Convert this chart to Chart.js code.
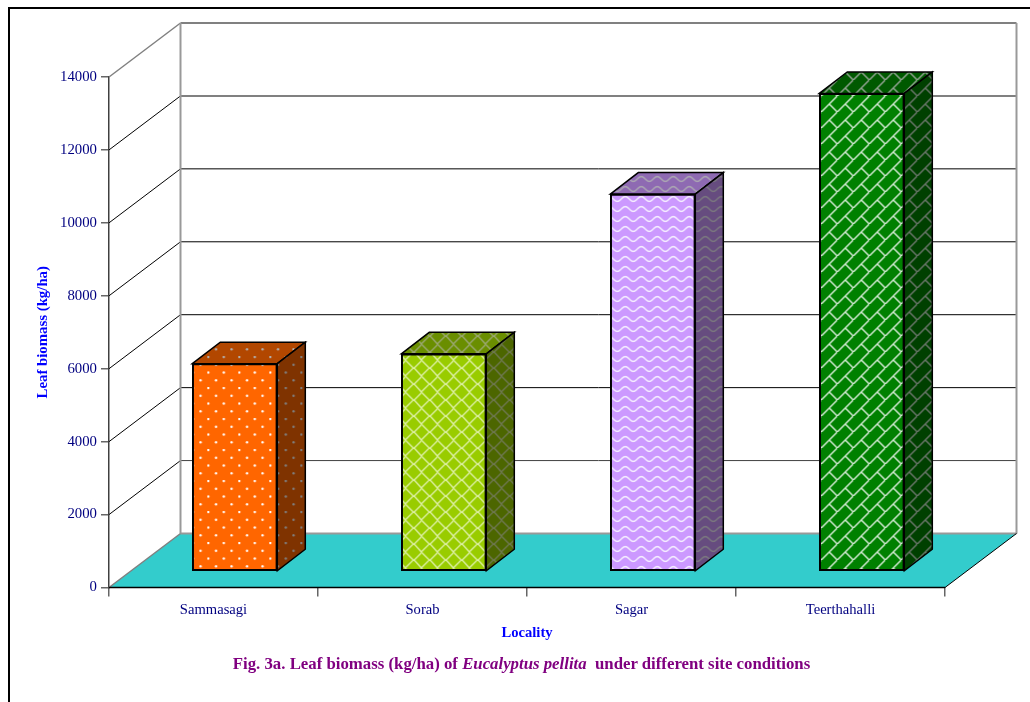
<!DOCTYPE html>
<html>
<head>
<meta charset="utf-8">
<title>Leaf biomass</title>
<script src="https://cdn.jsdelivr.net/npm/chart.js@4"></script>
<style>
  html, body { margin: 0; padding: 0; background: #fff; overflow: hidden; }
  #page { position: relative; width: 1030px; height: 702px; }
  #frame { position: absolute; left: 8px; top: 7px; right: 0; bottom: 0; border-left: 2px solid #000; border-top: 2px solid #000; }
  #caption { position: absolute; left: 0; width: 1043px; top: 654px; text-align: center; white-space: pre;
             font: bold 16.8px "Liberation Serif", serif; color: #800080; }
</style>
</head>
<body>
<div id="page">
  <div id="frame"></div>
  <canvas id="chart" width="1030" height="702"></canvas>
  <div id="caption">Fig. 3a. Leaf biomass (kg/ha) of <i>Eucalyptus pellita</i>  under different site conditions</div>
</div>
<script>
const categories = ["Sammasagi", "Sorab", "Sagar", "Teerthahalli"];
const leafBiomass = [5700, 5970, 10350, 13110];

const serif = "'Liberation Serif', serif";
const wallDx = 71.5, wallDy = 54;   // depth of the floor
const barDx = 28, barDy = 21.5;     // depth of one bar
const barShiftX = 21.3, barShiftY = -16; // bars stand in the middle of the floor

function tile(w, h, base, paint) {
  const c = document.createElement("canvas");
  c.width = w;
  c.height = h;
  const g = c.getContext("2d");
  g.fillStyle = base;
  g.fillRect(0, 0, w, h);
  paint(g);
  return g.createPattern(c, "repeat");
}

function dots(g) {
  g.fillStyle = "#ffffff";
  [[1, 0], [16.5, 0], [8.75, 7.75], [24.25, 7.75], [1, 15.5], [16.5, 15.5], [8.75, 23.25], [24.25, 23.25]].forEach(([x, y]) => {
    g.beginPath();
    g.arc(x, y + 1, 1.2, 0, Math.PI * 2);
    g.fill();
  });
}

function lattice(g) {
  g.strokeStyle = "#dcefa0";
  g.lineWidth = 1.4;
  g.beginPath();
  g.moveTo(-1, 9); g.lineTo(9, -1);
  g.moveTo(8, 17); g.lineTo(17, 8);
  g.moveTo(-1, 7); g.lineTo(9, 17);
  g.moveTo(8, -1); g.lineTo(17, 9);
  g.stroke();
}

function waves(g) {
  g.strokeStyle = "#f4ecff";
  g.lineWidth = 1.5;
  g.beginPath();
  for (let x = -1; x <= 17; x += 0.5) {
    const y = 5 + 2.4 * Math.sin(x / 16 * Math.PI * 2);
    if (x === -1) g.moveTo(x, y); else g.lineTo(x, y);
  }
  g.stroke();
}

function bricks(g) {
  g.strokeStyle = "#cfe8cf";
  g.lineWidth = 1.5;
  g.beginPath();
  g.moveTo(-2, 18); g.lineTo(18, -2);
  g.moveTo(8, 8); g.lineTo(17, 17);
  g.stroke();
}

const barFills = [
  tile(31, 31, "#ff6600", dots),
  tile(16, 16, "#99cc00", lattice),
  tile(16, 10, "#cc99ff", waves),
  tile(16, 16, "#008000", bricks),
];

function poly(ctx, pts) {
  ctx.beginPath();
  pts.forEach(([x, y], i) => (i ? ctx.lineTo(x, y) : ctx.moveTo(x, y)));
  ctx.closePath();
}

function line(ctx, x1, y1, x2, y2, color, width) {
  ctx.strokeStyle = color;
  ctx.lineWidth = width;
  ctx.beginPath();
  ctx.moveTo(x1, y1);
  ctx.lineTo(x2, y2);
  ctx.stroke();
}

// back walls, floor and the receding faces of the bars
const box3d = {
  id: "box3d",
  beforeDatasetsDraw(chart) {
    const { ctx, chartArea: a, scales: { y } } = chart;
    ctx.save();
    const backL = a.left + wallDx, backR = a.right + wallDx;

    ctx.fillStyle = "#33cccc";
    poly(ctx, [[a.left, a.bottom], [backL, a.bottom - wallDy], [backR, a.bottom - wallDy], [a.right, a.bottom]]);
    ctx.fill();

    y.ticks.forEach(t => {
      const py = y.getPixelForValue(t.value);
      const top = t.value === y.max;
      const wall = t.value >= 12000 ? "#808080" : t.value === 2000 ? "#404040" : t.value === 0 ? "#999999" : "#000000";
      line(ctx, backL, py - wallDy, backR, py - wallDy, wall, wall === "#000000" || wall === "#404040" ? 1 : 2);
      if (t.value > 0) line(ctx, a.left, py, backL, py - wallDy, top ? "#808080" : "#000000", top ? 1.5 : 1);
    });

    line(ctx, backL, a.top - wallDy, backL, a.bottom - wallDy, "#999999", 2);
    line(ctx, backR, a.top - wallDy, backR, a.bottom - wallDy, "#999999", 2);
    line(ctx, a.left, a.bottom, backL, a.bottom - wallDy, "#808080", 1.5);
    line(ctx, a.right, a.bottom, backR, a.bottom - wallDy, "#000000", 1);
    line(ctx, a.left, a.bottom, a.right, a.bottom, "#000000", 1.5);
    ctx.restore();
  },
  beforeDatasetDraw(chart, args) {
    const { ctx } = chart;
    ctx.save();
    ctx.translate(barShiftX, barShiftY);
    args.meta.data.forEach((bar, i) => {
      const { x, y, base, width } = bar.getProps(["x", "y", "base", "width"], true);
      const l = x - width / 2, r = x + width / 2;
      const top = [[l, y], [l + barDx, y - barDy], [r + barDx, y - barDy], [r, y]];
      const side = [[r, y], [r + barDx, y - barDy], [r + barDx, base - barDy], [r, base]];
      [[top, 0.3], [side, 0.5]].forEach(([pts, shade]) => {
        poly(ctx, pts);
        ctx.fillStyle = barFills[i];
        ctx.fill();
        ctx.fillStyle = "rgba(0,0,0," + shade + ")";
        ctx.fill();
        ctx.strokeStyle = "#000";
        ctx.lineWidth = 1.5;
        ctx.stroke();
      });
    });
  },
  afterDatasetDraw(chart) {
    chart.ctx.restore();
  },
};

new Chart(document.getElementById("chart"), {
  type: "bar",
  data: {
    labels: categories,
    datasets: [{
      data: leafBiomass,
      backgroundColor: barFills,
      borderColor: "#000",
      borderWidth: 2,
      borderSkipped: false,
      barThickness: 85,
    }],
  },
  options: {
    responsive: false,
    animation: false,
    layout: { padding: { top: 77, right: 85, left: 0, bottom: 0 } },
    plugins: { legend: { display: false }, tooltip: { enabled: false } },
    scales: {
      x: {
        afterFit(scale) { scale.height = 114.5; },
        grid: { offset: true, drawOnChartArea: false, color: "#666", lineWidth: 1.5, tickLength: 9 },
        border: { color: "#000", width: 1 },
        ticks: { color: "#000080", font: { family: serif, size: 14.6 }, padding: 5, maxRotation: 0 },
        title: {
          display: true,
          text: "Locality",
          color: "#0000ff",
          font: { family: serif, size: 14.6, weight: "bold" },
          padding: { top: 0, bottom: 60 },
        },
      },
      y: {
        min: 0,
        max: 14000,
        afterFit(scale) { scale.width = 109; },
        grid: { drawOnChartArea: false, color: "#666", lineWidth: 1.5, tickLength: 8 },
        border: { color: "#404040", width: 1.5 },
        ticks: { stepSize: 2000, color: "#000080", font: { family: serif, size: 14.8 }, padding: 4, callback: v => String(v) },
        title: {
          display: true,
          text: "Leaf biomass (kg/ha)",
          color: "#0000ff",
          font: { family: serif, size: 14.8, weight: "bold" },
          padding: { top: 34, bottom: 0 },
        },
      },
    },
  },
  plugins: [box3d],
});
</script>
</body>
</html>
